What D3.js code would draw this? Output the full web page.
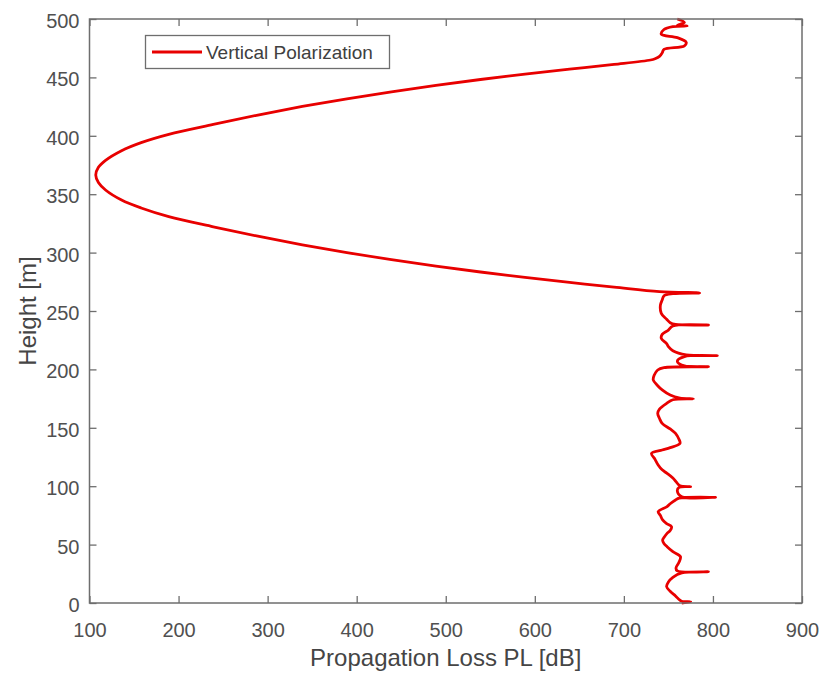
<!DOCTYPE html>
<html>
<head>
<meta charset="utf-8">
<script src="https://cdn.jsdelivr.net/npm/d3@7"></script>
<style>
  html, body { margin: 0; padding: 0; background: #fff; }
  svg { display: block; font-family: "Liberation Sans", Arial, Helvetica, sans-serif; }
</style>
</head>
<body>
<svg id="chart" width="822" height="677"></svg>
<script>
// ---- data ----
const seriesName = "Vertical Polarization";
const xTicks = [100, 200, 300, 400, 500, 600, 700, 800, 900];
const yTicks = [0, 50, 100, 150, 200, 250, 300, 350, 400, 450, 500];
const xLabel = "Propagation Loss PL [dB]";
const yLabel = "Height [m]";

// height [m] (ascending) and propagation loss [dB]
const height = [
  0, 1, 1.5, 3, 6, 10, 14, 18, 22, 25.8, 26.8, 27.5, 30, 35, 39.7, 44, 48.2, 51, 53.9, 56,
  59.6, 62, 65.4, 68, 71.1, 75, 78.2, 82.5, 85, 88.2, 89.8, 90.5, 91, 96, 99, 99.6, 100.3, 103.9,
  107, 111, 114, 118.2, 123, 128.1, 131, 133, 136.7, 140, 145.3, 149, 153.8, 158, 162.4,
  166, 170.9, 174, 174.8, 175.5, 178, 182.4, 186, 190.9, 195, 199.5, 201.5, 202.3, 203,
  207, 211, 211.8, 212.5, 216, 219.5, 222, 226.6, 230, 233.7, 237.2, 238, 238.5, 240, 243,
  248, 255, 259.4, 263, 264.8, 265.5, 266.6,
  270.5, 274.5, 278.8, 283.4, 288.4, 293.9, 299.9, 306.6, 314.0, 322.1, 330.8, 338.2,
  345.0, 353.6, 360, 366.4, 373, 379, 387.3, 394.2, 401.3, 409.8, 417.8, 425.1, 431.7,
  437.7, 443.2, 448.2, 452.8, 457.1, 461.1, 464.9,
  466, 468, 471, 474, 477, 480, 484, 487, 491, 493.5, 494, 494.5, 497, 500
];
const loss = [
  765, 775, 765, 762, 758, 752, 748, 750, 755, 765, 795, 760, 758.5, 762, 763.5, 755, 748.5, 745, 743.5, 745,
  748.5, 752, 753.5, 748, 743.5, 741, 738.5, 748.5, 752, 758, 762, 803, 765, 760, 762, 775, 763, 758.5,
  755, 748.5, 743, 738.5, 735, 731, 743, 752, 763, 762, 758, 752, 743, 740, 738,
  740, 748, 755, 778, 763, 752, 743, 738, 733, 734, 738, 745, 795, 768,
  760, 768, 805, 770, 755, 750, 748, 742, 743, 750, 755, 795, 758, 752, 748,
  742, 741, 743, 745, 755, 785, 740,
  689, 639, 589, 539, 489, 439, 389, 339, 289, 239, 189, 158,
  136, 118, 110, 107, 110, 118, 136, 158, 189, 239, 289, 339, 389,
  439, 489, 539, 589, 639, 689, 730,
  735, 740, 743, 745, 768, 770, 760, 742, 745, 755, 771, 760, 768, 760
];

// ---- layout ----
const svg = d3.select("#chart");
const L = 89.5, R = 802, T = 19, B = 603;
const x = d3.scaleLinear().domain([100, 900]).range([L, R]);
const y = d3.scaleLinear().domain([0, 500]).range([B, T]);

const axisCol = "#6e6e6e", textCol = "#505050", lineCol = "#e80000";
const tickFont = 20, labelFont = 24, legendFont = 19;

// Plot line
const pts = height.map((h, i) => [loss[i], h]);
const line = d3.line().x(d => x(d[0])).y(d => y(d[1])).curve(d3.curveCatmullRom.alpha(0.5));
svg.append("path").datum(pts)
  .attr("d", line)
  .attr("fill", "none")
  .attr("stroke", lineCol)
  .attr("stroke-width", 2.8)
  .attr("stroke-linejoin", "round");

// axes
function styleAxis(g, showText) {
  g.select(".domain").remove();
  g.selectAll(".tick line").attr("stroke", axisCol).attr("stroke-width", 1.3);
  g.selectAll(".tick text").attr("fill", textCol).style("font-size", tickFont + "px");
  if (!showText) g.selectAll(".tick text").remove();
}
svg.append("g").attr("transform", `translate(0,${B})`)
  .call(d3.axisBottom(x).tickValues(xTicks).tickSizeInner(-7).tickSizeOuter(0).tickPadding(20))
  .call(g => styleAxis(g, true));
svg.append("g").attr("transform", `translate(0,${T})`)
  .call(d3.axisTop(x).tickValues(xTicks).tickSizeInner(-7).tickSizeOuter(0))
  .call(g => styleAxis(g, false));
svg.append("g").attr("transform", `translate(${L},0)`)
  .call(d3.axisLeft(y).tickValues(yTicks).tickSizeInner(-7).tickSizeOuter(0).tickPadding(10))
  .call(g => { styleAxis(g, true); g.selectAll(".tick text").attr("dy", "0.42em"); });
svg.append("g").attr("transform", `translate(${R},0)`)
  .call(d3.axisRight(y).tickValues(yTicks).tickSizeInner(-7).tickSizeOuter(0))
  .call(g => styleAxis(g, false));

// box
svg.append("rect").attr("x", L).attr("y", T).attr("width", R - L).attr("height", B - T)
  .attr("fill", "none").attr("stroke", axisCol).attr("stroke-width", 1.5);

// axis labels
svg.append("text").attr("x", (L + R) / 2).attr("y", 666)
  .attr("text-anchor", "middle").attr("fill", "#454545")
  .style("font-size", labelFont + "px").text(xLabel);
svg.append("text").attr("transform", `translate(36,${(T + B) / 2}) rotate(-90)`)
  .attr("text-anchor", "middle").attr("fill", "#454545")
  .style("font-size", labelFont + "px").text(yLabel);

// legend
const lg = svg.append("g");
lg.append("rect").attr("x", 145.5).attr("y", 35.5).attr("width", 244).attr("height", 33)
  .attr("fill", "#fff").attr("stroke", axisCol).attr("stroke-width", 1.3);
lg.append("line").attr("x1", 152).attr("x2", 202).attr("y1", 52).attr("y2", 52)
  .attr("stroke", lineCol).attr("stroke-width", 3);
lg.append("text").attr("x", 206).attr("y", 52).attr("dy", "0.35em")
  .attr("fill", "#404040").style("font-size", legendFont + "px").text(seriesName);
</script>
</body>
</html>
